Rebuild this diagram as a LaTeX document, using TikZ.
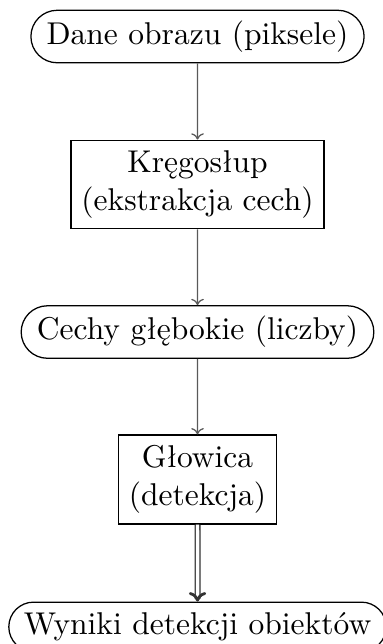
\documentclass[tikz,border=0pt]{standalone}
\usepackage{fontspec}
\usetikzlibrary{shapes.misc,arrows.meta}
\begin{document}
\begin{tikzpicture}[x=1pt,y=1pt,
  terminal/.style={rounded rectangle, draw=black, line width=0.4pt, inner sep=3.33pt},
  stage/.style={rectangle, draw=black, line width=0.4pt, align=center, inner sep=3.33pt},
  flow/.style={draw=black!65, line width=0.4pt, -{To[length=2pt,width=4pt]}},
  strongflow/.style={draw=black!80, double, double distance=1.1pt, line width=0.4pt,
    -{To[line width=0.9pt,length=3pt,width=5.5pt]}}]
  \useasboundingbox (0,0) rectangle (121.27,-204.44);
  \node[terminal] (input)    at (62.7,-11.59)  {Dane obrazu (piksele)};
  \node[stage]    (backbone) at (62.7,-58.57)  {Kręgosłup\\(ekstrakcja cech)};
  \node[terminal] (features) at (62.7,-105.4)  {Cechy głębokie (liczby)};
  \node[stage]    (head)     at (62.7,-152.2)  {Głowica\\(detekcja)};
  \node[terminal] (output)   at (62.7,-199.0)  {Wyniki detekcji obiektów};
  \draw[flow] (input) -- (backbone);
  \draw[flow] (backbone) -- (features);
  \draw[flow] (features) -- (head);
  \draw[strongflow] (head) -- (output);
\end{tikzpicture}
\end{document}
